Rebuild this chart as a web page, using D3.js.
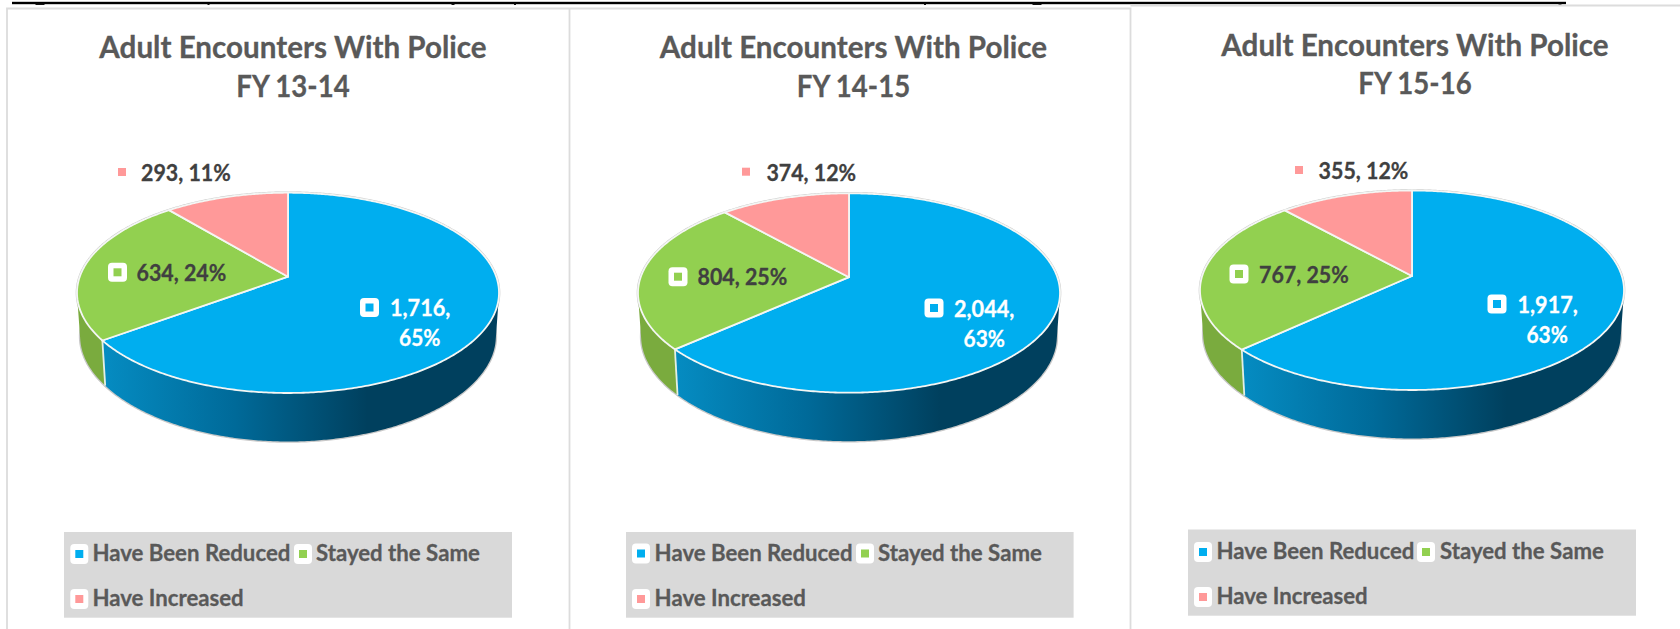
<!DOCTYPE html>
<html>
<head>
<meta charset="utf-8">
<script src="https://cdn.jsdelivr.net/npm/d3@7/dist/d3.min.js"></script>
<style>
html,body{margin:0;padding:0;background:#fff;overflow:hidden}
svg{display:block}
text{font-family:Lato,"Open Sans",sans-serif;font-weight:700}
</style>
</head>
<body>
<svg id="c" width="1680" height="629"></svg>
<script>
// ---- data ----
const categories = ["Have Been Reduced", "Stayed the Same", "Have Increased"];
const years = ["FY 13-14", "FY 14-15", "FY 15-16"];
const titleText = "Adult Encounters With Police";
const reduced = [1716, 2044, 1917];
const stayed = [634, 804, 767];
const increased = [293, 374, 355];

// ---- style ----
const fills = ["#00AEEF", "#92D050", "#FF9999"];
const titleColor = "#595959", labelColor = "#404040", frameColor = "#dcdcdc";

// ---- layout of each panel ----
const pies = [
  {cx:288, apex:276.7, top:192.7, bottom:393,   rx:211},
  {cx:849, apex:277.2, top:193.3, bottom:392.7, rx:211},
  {cx:1412,apex:276,   top:190.5, bottom:390,   rx:212}
];
const titlePos = [{x:293,y1:58,y2:96.7},{x:853.5,y1:58,y2:96.7},{x:1415,y1:56,y2:94.3}];
const labelPos = [
  [{mx:369.5,my:307.5,tx:390,ty:316,t2x:399,t2y:346},{mx:117.5,my:272.3,tx:136.5,ty:281},{mx:122,my:172,tx:141,ty:181}],
  [{mx:934,my:308,tx:954,ty:317,t2x:963.6,t2y:346.7},{mx:678,my:276.7,tx:697.5,ty:285},{mx:746,my:171.7,tx:766.4,ty:181}],
  [{mx:1497,my:304,tx:1517.5,ty:313,t2x:1526.4,t2y:342.8},{mx:1239,my:274,tx:1259,ty:283},{mx:1299,my:170,tx:1318.6,ty:179}]
];
const legends = [
  {x0:64,  x1:512,  y0:532,   y1:617.7, m:[[79.3,554],[303,554],[79.3,599]], t:[[92.4,561],[316,561],[92.4,606]]},
  {x0:626, x1:1073.6,y0:532,  y1:617.7, m:[[641,553.5],[865,553.5],[641,599]], t:[[654.6,561],[878,561],[654.6,606]]},
  {x0:1188,x1:1636, y0:529.5, y1:615.7, m:[[1203,552],[1426,552],[1203,597]], t:[[1216.4,558.8],[1440,558.8],[1216.4,603.7]]}
];
const descenders = [[40,9],[208.5,2],[453,3],[515,2],[925,2],[1037,9],[1560,3]];

const svg = d3.select("#c");
const defs = svg.append("defs");

// places a text, then squeezes it horizontally to match the narrower reference face
function putText(g, str, x, y, size, color, sx, anchor){
  const t = g.append("text").attr("x",x).attr("y",y).attr("font-size",size).attr("fill",color)
    .attr("stroke",color).attr("stroke-width",0.3).attr("text-anchor",anchor||"start").text(str);
  const w = t.node().getComputedTextLength();
  t.attr("textLength",w*sx).attr("lengthAdjust","spacingAndGlyphs");
  return t;
}

// page furniture: cropped underlined heading and chart frames
svg.append("rect").attr("x",12).attr("y",1.8).attr("width",1554).attr("height",2.4).attr("fill","#000");
svg.selectAll("rect.desc").data(descenders).join("rect").attr("class","desc")
  .attr("x",d=>d[0]-d[1]/2).attr("y",3.5).attr("width",d=>d[1]).attr("height",1.5).attr("fill","#111");
const framePath = "M7,629V8.5H569.5V629M569.5,8.5H1130.5V629M1130.5,5.5H1680";
svg.append("path").attr("d",framePath).attr("fill","none").attr("stroke",frameColor).attr("stroke-width",1.8);

const pieGen = d3.pie().sort(null).value(d=>d);
const lineGen = d3.line();
const fmtN = d3.format(","), fmtP = d3.format(".0%");

function projector(p){
  const up = p.apex - p.top, down = p.bottom - p.apex;
  const k = (down - up) / (down + up);
  const A = up * (1 + k);
  const B = p.rx * Math.sqrt(1 - k*k);
  const k2 = k + 0.03, A2 = A * 1.006;
  const shrink = 0.985;
  const y2 = p.bottom + 48.5 - A2/(1 - k2);
  return {
    top: t => { const u=Math.sin(t), v=Math.cos(t), w=1+k*v; return [p.cx+B*u/w, p.apex-A*v/w]; },
    low: t => { const u=Math.sin(t), v=Math.cos(t); return [p.cx+shrink*B*u/(1+k*v), y2-A2*v/(1+k2*v)]; }
  };
}
const arcAngles = (a,b) => { const n=Math.max(2,Math.ceil(Math.abs(b-a)/0.01)); return d3.range(n+1).map(i=>a+(b-a)*i/n); };

years.forEach((yr,i)=>{
  const p = pies[i], g = svg.append("g");
  const vals = [reduced[i], stayed[i], increased[i]];
  const total = d3.sum(vals);
  const arcs = pieGen(vals);
  const proj = projector(p);
  const tau = Math.PI*2;

  // title
  putText(g, titleText, titlePos[i].x, titlePos[i].y1, 31, titleColor, 0.955, "middle");
  putText(g, yr, titlePos[i].x, titlePos[i].y2, 31, titleColor, 0.89, "middle");

  // grey silhouette
  const ringT = arcAngles(0,tau);
  g.append("path").attr("d",lineGen(ringT.map(proj.top))+"Z").attr("fill","#fff").attr("stroke","#c8c8c8").attr("stroke-width",2.6);
  g.append("path").attr("d",lineGen(ringT.map(proj.low))+"Z").attr("fill","#fff").attr("stroke","#c8c8c8").attr("stroke-width",2.6);

  // gradients for the wall
  const edge = proj.top(arcs[0].endAngle)[0];
  const gid = "side"+i;
  const lg = defs.append("linearGradient").attr("id",gid).attr("gradientUnits","userSpaceOnUse")
    .attr("x1",edge).attr("x2",edge+265).attr("y1",0).attr("y2",0);
  lg.append("stop").attr("offset",0).attr("stop-color","#058CC2");
  lg.append("stop").attr("offset",0.5).attr("stop-color","#006A99");
  lg.append("stop").attr("offset",1).attr("stop-color","#00405E");

  // wall: reduced slice then stayed slice, front half only
  const wall = (a,b,fill)=>{
    const t = arcAngles(a,b);
    const pts = t.map(proj.top).concat(t.slice().reverse().map(proj.low));
    g.append("path").attr("d",lineGen(pts)+"Z").attr("fill",fill);
  };
  wall(Math.PI*0.56, arcs[0].endAngle, `url(#${gid})`);
  wall(arcs[0].endAngle, Math.PI*1.44, "#7AAB3E");
  // wall divider
  g.append("path").attr("d",lineGen([proj.top(arcs[0].endAngle),proj.low(arcs[0].endAngle)]))
    .attr("stroke","#e4efe4").attr("stroke-width",1.8).attr("fill","none");

  // top surface
  arcs.forEach((d,j)=>{
    const pts = [[p.cx,p.apex]].concat(arcAngles(d.startAngle,d.endAngle).map(proj.top));
    g.append("path").attr("d",lineGen(pts)+"Z").attr("fill",fills[j])
      .attr("stroke","#f4f6f4").attr("stroke-width",1.8).attr("stroke-linejoin","round");
  });

  // data labels
  arcs.forEach((d,j)=>{
    const l = labelPos[i][j];
    const color = j===0 ? "#fff" : labelColor;
    g.append("rect").attr("x",l.mx-9.5).attr("y",l.my-9.5).attr("width",19).attr("height",19).attr("rx",4).attr("fill","#fff");
    g.append("rect").attr("x",l.mx-4).attr("y",l.my-4).attr("width",8).attr("height",8).attr("fill",fills[j]);
    const n = fmtN(d.data), pc = fmtP(d.data/total);
    if(j===0){
      putText(g, n+",", l.tx, l.ty, 23.5, color, 0.92);
      putText(g, pc, l.t2x, l.t2y, 23.5, color, 0.89);
    } else {
      putText(g, n+", "+pc, l.tx, l.ty, 23.5, color, 0.91);
    }
  });

  // legend
  const L = legends[i];
  g.append("rect").attr("x",L.x0).attr("y",L.y0).attr("width",L.x1-L.x0).attr("height",L.y1-L.y0).attr("fill","#D9D9D9");
  categories.forEach((c,j)=>{
    const [mx,my]=L.m[j], [tx,ty]=L.t[j];
    g.append("rect").attr("x",mx-9).attr("y",my-10).attr("width",18).attr("height",20).attr("rx",4).attr("fill","#fff");
    g.append("rect").attr("x",mx-4).attr("y",my-4).attr("width",8).attr("height",8).attr("fill",fills[j]);
    putText(g, c, tx, ty, 23, titleColor, 0.965);
  });
});
</script>
</body>
</html>
